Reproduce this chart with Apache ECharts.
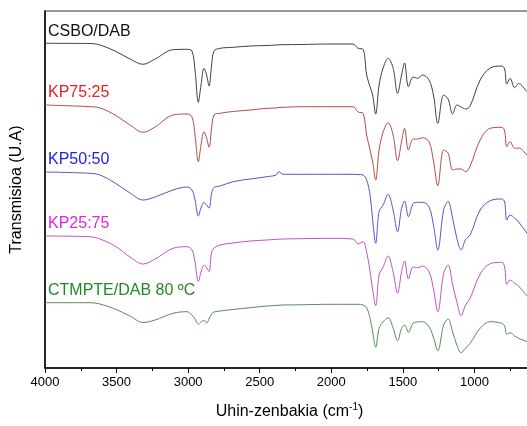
<!DOCTYPE html>
<html>
<head>
<meta charset="utf-8">
<script src="https://cdn.jsdelivr.net/npm/echarts@6/dist/echarts.min.js"></script>
<style>
  html, body { margin: 0; padding: 0; background: #fff; }
  #chart { width: 527px; height: 426px; }
</style>
</head>
<body>
<div id="chart"></div>
<script>
// FTIR spectra, stacked with vertical offsets (arbitrary units)
const wavenumbers = [4000, 3686, 3616, 3511, 3406, 3315, 3231, 3106, 3008, 2973, 2952, 2929, 2910, 2889, 2871, 2854, 2836, 2819, 2777, 2686, 2567, 2449, 2386, 2365, 2337, 2218, 2008, 1848, 1813, 1778, 1753, 1729, 1711, 1690, 1666, 1638, 1603, 1568, 1537, 1509, 1488, 1461, 1428, 1397, 1362, 1317, 1285, 1256, 1215, 1184, 1152, 1123, 1093, 1062, 1030, 960, 890, 809, 789, 774, 751, 719, 691, 632, 600];

const csboDab = [324.7, 324.5, 323, 317, 309, 303.7, 309, 318.3, 318.7, 317, 298, 265.7, 283, 299.7, 293, 282, 303, 317, 319.7, 320.7, 322, 322.5, 323, 323.2, 323.3, 323.5, 324, 324, 319.7, 318.7, 293, 281.3, 273, 254, 283, 300, 309.7, 300, 274.7, 293, 305, 281.3, 291, 289.7, 293, 288, 272, 244.7, 273, 269, 254, 263, 261, 259, 262, 288, 300, 302, 299, 284, 289.7, 280.3, 284.5, 276.3, 273];

const kp7525 = [263, 261.3, 260, 253, 243, 235.7, 241, 253, 254, 251, 233, 206.3, 223, 236.3, 230, 220.7, 240, 253, 254.7, 256.5, 258, 259.7, 260, 260.5, 260.7, 261.3, 261.3, 261.3, 256, 254.7, 233, 218, 206, 188, 218, 236, 245.3, 233, 207.3, 226.3, 239.7, 218, 229, 229, 230.3, 226.3, 206, 182.3, 218, 215, 198, 199, 199, 196.3, 202, 228, 239.7, 240.7, 237, 221.3, 226.3, 219.7, 220, 213, 210];

const kp5050 = [196, 194.7, 193, 185, 175, 168, 171, 178, 181, 178, 168, 152, 160, 165.5, 163, 159.7, 174.7, 180.5, 182, 186.3, 189, 191.3, 193, 196.3, 193.7, 193.7, 193.7, 193.7, 193.5, 193, 188, 173, 148, 124.7, 156.3, 163, 173.7, 158, 136.3, 159.7, 167, 151.3, 164.5, 165.7, 165.7, 161, 142, 118, 158, 166.5, 149.7, 129.7, 118, 128.5, 133, 158, 167.3, 169, 166, 148, 153, 150, 146, 134.7, 131];

const kp2575 = [132, 131.3, 129, 122, 111, 104, 109, 119.7, 121.3, 118, 106, 86.5, 96, 103, 100, 96.5, 116, 120, 123, 125, 127, 128, 128.7, 128.8, 129, 129.3, 129.7, 129, 124, 126.3, 116, 96.3, 78, 62.3, 93, 101, 112, 96, 74.7, 96.3, 107, 89, 101, 100.3, 102, 96.3, 78, 56.3, 94.7, 103, 83, 66.3, 52.3, 63, 69.7, 94, 104.3, 105.7, 101, 83.7, 88, 84.7, 82, 72, 69];

const ctmpteDab = [65.3, 65.3, 64, 59, 52, 45.5, 48, 54.7, 56.3, 53, 49, 43.7, 46, 47.5, 45, 49, 54, 56, 57, 58.5, 60.3, 62, 62.5, 62.8, 63, 63.2, 63.7, 63.7, 63.7, 63, 60.3, 49.7, 36, 20.7, 39.7, 46, 50.3, 40, 27.3, 39.5, 43, 35.7, 45, 46, 46.3, 41.3, 30, 17.3, 43, 49, 36, 23, 15.3, 20, 24.7, 39.7, 46.3, 44.7, 42, 33.7, 35.3, 32, 29.7, 26.3, 25];

const seriesNames = ['CSBO/DAB', 'KP75:25', 'KP50:50', 'KP25:75', 'CTMPTE/DAB 80 \u00baC'];
const seriesValues = [csboDab, kp7525, kp5050, kp2575, ctmpteDab];
const lineColors = ['#404040', '#b84a4a', '#5656c4', '#c054c0', '#5a8a5a'];
const labelColors = ['#111111', '#e42222', '#2424e4', '#e424e4', '#228a22'];
// baseline of each trace at 4000 cm-1, used to anchor its name
const labelAnchors = [csboDab[0], kp7525[0], kp5050[0], kp2575[0], ctmpteDab[0]];

const FONT = '"Liberation Sans", Arial, sans-serif';
const chart = echarts.init(document.getElementById('chart'), null, { renderer: 'canvas' });

const series = seriesNames.map((name, i) => ({
  name: name,
  type: 'line',
  data: wavenumbers.map((w, k) => [w, seriesValues[i][k]]),
  showSymbol: false,
  smooth: 0.35,
  lineStyle: { color: lineColors[i], width: 1 },
  itemStyle: { color: lineColors[i] },
  silent: true,
  animation: false,
  clip: true
}));

chart.setOption({
  animation: false,
  backgroundColor: '#ffffff',
  grid: {
    left: 45, top: 11, width: 501, bottom: 58,
    outerBoundsMode: 'none',
    containLabel: false,
    show: true, borderColor: '#333', borderWidth: 1, backgroundColor: 'transparent'
  },
  xAxis: {
    type: 'value',
    inverse: true,
    min: 500, max: 4000, interval: 500,
    axisLine: { show: true, onZero: false, lineStyle: { color: '#000', width: 1.5 } },
    axisTick: { show: true, inside: false, length: 5, lineStyle: { color: '#000', width: 1 } },
    minorTick: { show: true, splitNumber: 2, length: 3, lineStyle: { color: '#000', width: 1 } },
    splitLine: { show: false },
    axisLabel: {
      color: '#000', fontFamily: FONT, fontSize: 13, margin: 8,
      formatter: (v) => String(v)
    },
    name: '{a|Uhin-zenbakia (cm}{s|-1}{a|)}',
    nameLocation: 'middle',
    nameGap: 34,
    nameTextStyle: {
      padding: [0, 12, 0, 0],
      rich: {
        a: { fontFamily: FONT, fontSize: 16, color: '#000', verticalAlign: 'bottom', lineHeight: 18 },
        s: { fontFamily: FONT, fontSize: 10, color: '#000', verticalAlign: 'top', padding: [0, 0, 8, 0], lineHeight: 18 }
      }
    }
  },
  yAxis: {
    type: 'value',
    min: 0, max: 357,
    axisLine: { show: true, lineStyle: { color: '#000', width: 1.5 } },
    axisTick: { show: false },
    axisLabel: { show: false },
    splitLine: { show: false },
    name: 'Transmisioa (U.A)',
    nameLocation: 'middle',
    nameGap: 20,
    nameTextStyle: { fontFamily: FONT, fontSize: 16, color: '#000' }
  },
  series: series
});

// name of each trace, written just above its left end
const graphics = seriesNames.map((name, i) => {
  const p = chart.convertToPixel({ gridIndex: 0 }, [4000, labelAnchors[i]]);
  return {
    type: 'text',
    x: p[0] + 3,
    y: p[1] - 12,
    style: {
      text: name,
      fill: labelColors[i],
      font: '16px ' + FONT,
      textVerticalAlign: 'middle',
      textAlign: 'left'
    },
    silent: true
  };
});
chart.setOption({ graphic: graphics });
</script>
</body>
</html>
